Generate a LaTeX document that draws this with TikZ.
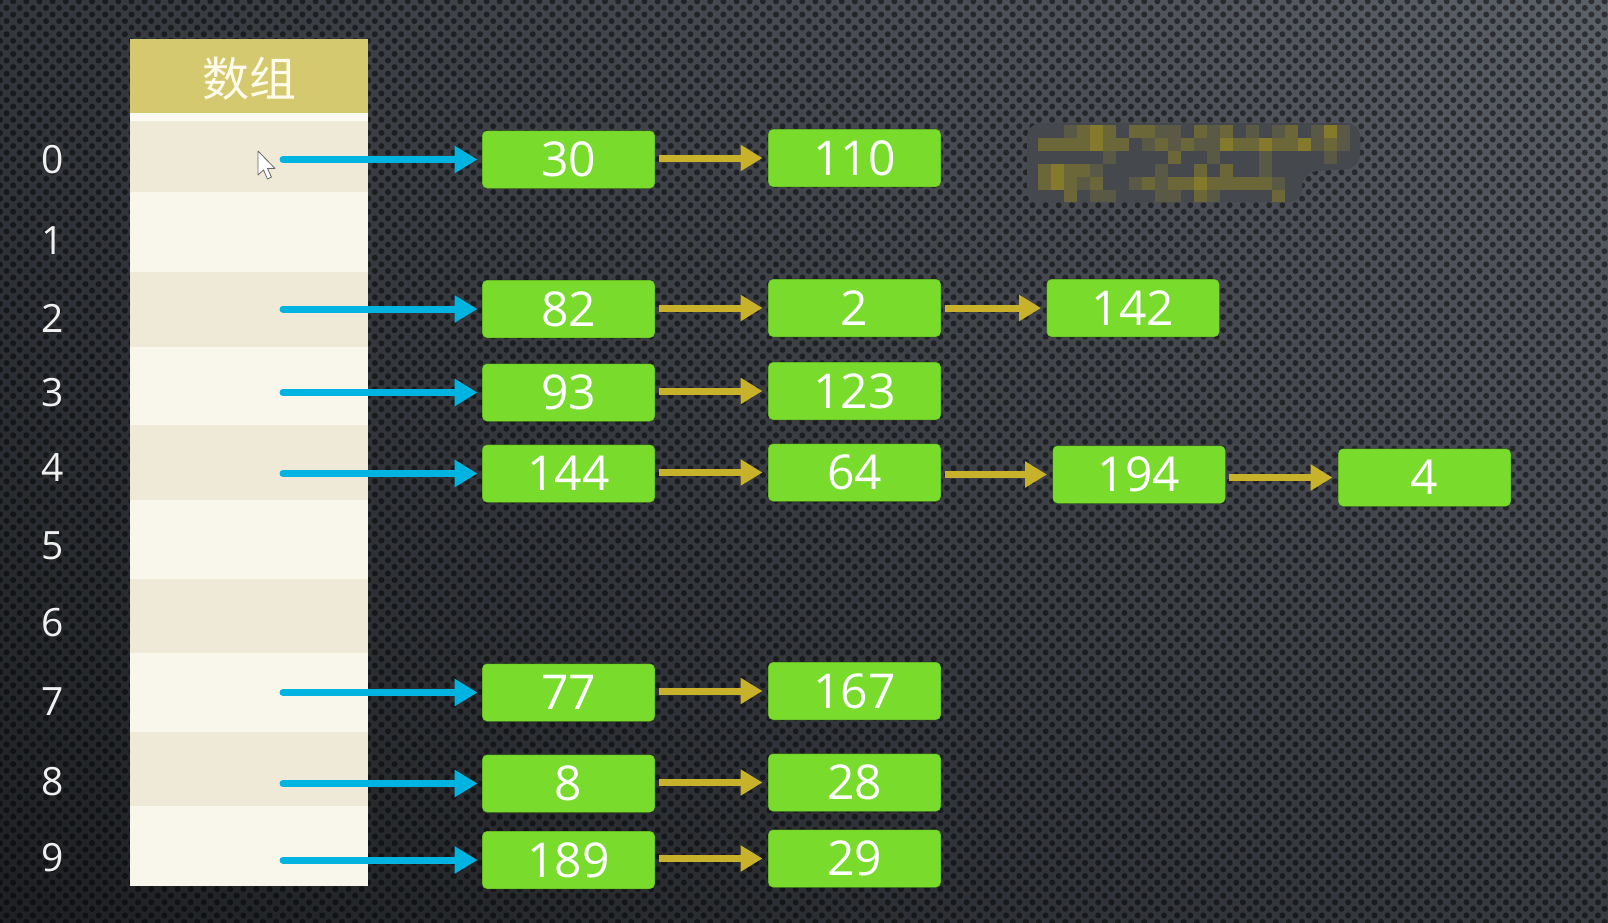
\documentclass[tikz,border=0pt]{standalone}
\usepackage{fontspec}
\setmainfont{Open Sans}
\newfontfamily\cjk{Noto Sans CJK SC}
\usetikzlibrary{arrows.meta,patterns.meta,shadings}
\definecolor{bgUL}{HTML}{34373C}
\definecolor{bgUR}{HTML}{5C6067}
\definecolor{bgLL}{HTML}{1E2023}
\definecolor{bgLR}{HTML}{383B40}
\definecolor{hdr}{HTML}{D5C96F}
\definecolor{hdrtxt}{HTML}{FEFBEA}
\definecolor{rowA}{HTML}{EFE9D7}
\definecolor{rowB}{HTML}{F9F6EC}
\definecolor{gapc}{HTML}{FBFAF3}
\definecolor{boxg}{HTML}{79DC2D}
\definecolor{arrb}{HTML}{00B4E1}
\definecolor{arry}{HTML}{C9B22B}
\definecolor{mz0}{HTML}{45484D}
\definecolor{mz1}{HTML}{5A5946}
\definecolor{mz2}{HTML}{6C6738}
\definecolor{mz3}{HTML}{857A2C}
\tikzset{
  gbox/.style={rectangle, rounded corners=5pt, fill=boxg, draw=black, draw opacity=0.25, line width=1pt,
    minimum width=173pt, minimum height=58pt, inner sep=0pt, text=white,
    font=\fontsize{48}{50}\selectfont},
  idx/.style={inner sep=0pt, text=white!94!black, font=\fontsize{39}{40}\selectfont},
  bluearr/.style={draw=arrb, line width=7pt, line cap=round, -{Triangle[length=23pt,width=26pt]}, shorten >=4pt},
  yelarr/.style={draw=arry, line width=7pt, -{Triangle[length=22pt,width=25pt]}, shorten <=3pt, shorten >=5pt},
}
\begin{document}
\begin{tikzpicture}[x=1pt,y=-1pt]
\useasboundingbox (0,0) rectangle (1608,922);
% background
\shade[upper left=bgUL, upper right=bgUR, lower left=bgLL, lower right=bgLR] (0,0) rectangle (1608,922);
\fill[pattern={Dots[distance=9.3pt, angle=45, radius=3pt]}, pattern color=black, fill opacity=0.5] (0,0) rectangle (1608,922);

% array column
\fill[hdr] (130,39) rectangle (368,113);
\fill[gapc] (130,113) rectangle (368,121);
\foreach \t/\b/\c in {121/192/rowA,192/272/rowB,272/347/rowA,347/425/rowB,425/500/rowA,500/579/rowB,579/653/rowA,653/732/rowB,732/806/rowA,806/886/rowB}
  \fill[\c] (130,\t) rectangle (368,\b);
\node[inner sep=0pt, text=hdrtxt, font=\cjk\fontsize{47}{49}\selectfont] (hdr) at (249,79) {数组};

% index labels
\foreach \i/\y in {0/160,1/241,2/318,3/393,4/467,5/546,6/623,7/702,8/782,9/858}
  \node[idx] (i\i) at (53,\y) {\i};

% green boxes
\node[gbox] (b0a) at (568.5,159.5) {30};
\node[gbox] (b0b) at (854.5,158) {110};
\node[gbox] (b2a) at (568.5,309) {82};
\node[gbox] (b2b) at (854.5,308) {2};
\node[gbox] (b2c) at (1133,308) {142};
\node[gbox] (b3a) at (568.5,392.5) {93};
\node[gbox] (b3b) at (854.5,391) {123};
\node[gbox] (b4a) at (568.5,473.5) {144};
\node[gbox] (b4b) at (854.5,472.5) {64};
\node[gbox] (b4c) at (1139,474.5) {194};
\node[gbox] (b4d) at (1424.5,477.5) {4};
\node[gbox] (b7a) at (568.5,692.5) {77};
\node[gbox] (b7b) at (854.5,691) {167};
\node[gbox] (b8a) at (568.5,783.5) {8};
\node[gbox] (b8b) at (854.5,782.5) {28};
\node[gbox] (b9a) at (568.5,860) {189};
\node[gbox] (b9b) at (854.5,858.5) {29};

% blue arrows from array cells
\foreach \r in {0,2,3,4,7,8,9}{
  \coordinate (s\r) at (b\r a.west -| 283,0);
  \draw[bluearr] (s\r) -- (b\r a.west);
}

% yellow arrows along chains
\foreach \r in {0,2,3,4,7,8,9}
  \draw[yelarr] (b\r a.east |- b\r b.west) -- (b\r b.west);
\draw[yelarr] (b2b.east |- b2c.west) -- (b2c.west);
\draw[yelarr] (b4b.east |- b4c.west) -- (b4c.west);
\draw[yelarr] (b4c.east |- b4d.west) -- (b4d.west);

% mouse cursor
\filldraw[fill=white, draw=black!60, line width=0.8pt, line join=round]
  (258,151) -- (258,175) -- (263.5,170) -- (267.5,179) -- (271.5,177) -- (267.5,168.5) -- (275,168.5) -- cycle;

% pixelated (blurred) region
\begin{scope}
\path[clip, rounded corners=14pt] (1027,123) -- (1360,123) -- (1360,168) -- (1302,172) -- (1302,202) -- (1027,202) -- cycle;
\fill[mz0] (1020,118) rectangle (1370,210);
\foreach \row [count=\r from 0] in {
 {0,0,1,2,3,2,0,2,2,1,1,0,2,1,2,0,1,0,1,2,0,1,3,1,0},
 {2,2,2,2,3,2,2,0,1,2,1,2,1,1,3,2,2,3,2,2,3,1,2,1,0},
 {0,0,0,0,0,1,0,0,0,0,2,0,0,1,0,0,0,1,0,0,0,0,1,0,0},
 {2,3,2,2,1,0,0,0,0,1,0,0,2,0,2,0,0,1,0,0,0,0,0,0,0},
 {2,3,2,1,2,0,0,1,2,1,2,2,3,2,2,2,2,2,1,0,0,0,0,0,0},
 {0,0,2,0,1,1,0,0,0,1,1,0,2,1,0,0,0,0,2,0,0,0,0,0,0}}{
  \foreach \v [count=\c from 0] in \row
    \fill[mz\v] ({1038+13*\c},{125+13*\r}) rectangle ++(13,13);
}
\end{scope}
\end{tikzpicture}
\end{document}
